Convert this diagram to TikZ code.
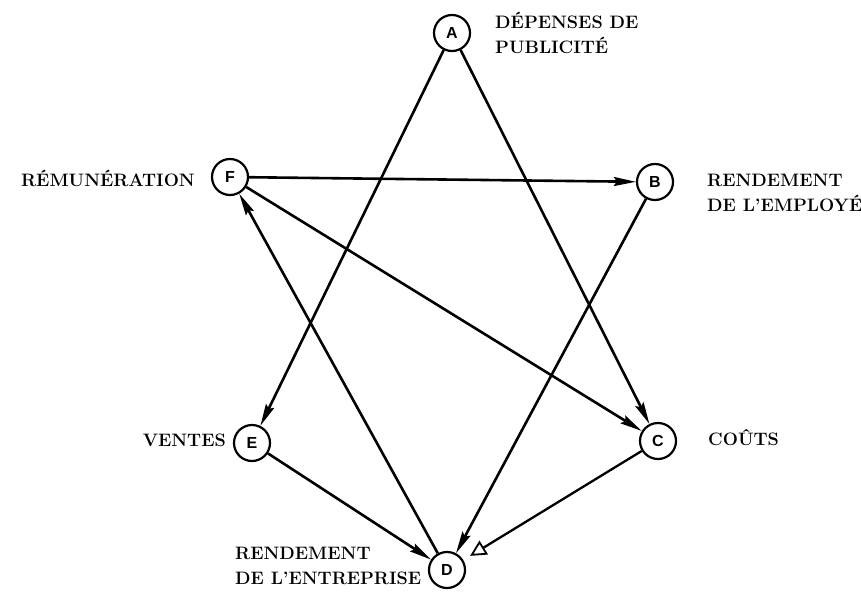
\documentclass[tikz,border=0pt]{standalone}
\usepackage{fontspec}
\newfontfamily\lettfont{Liberation Sans}
\usetikzlibrary{arrows.meta}
\begin{document}
\begin{tikzpicture}[x=1pt,y=-1pt,
  vnode/.style={circle,draw,line width=2.2pt,minimum size=36pt,inner sep=0pt,font=\lettfont\bfseries\fontsize{16}{16}\selectfont},
  lbl/.style={font=\bfseries\fontsize{18}{25}\selectfont,align=left,inner sep=0pt},
  edge/.style={line width=2.6pt,-{Stealth[length=22pt,width=9pt,inset=3pt]}},
  openedge/.style={line width=2.3pt,-{Triangle[open,length=16pt,width=16pt,line width=1.8pt]},shorten >=8pt}]
\useasboundingbox (0,0) rectangle (861,591);
\node[vnode] (A) at (452,33) {A};
\node[vnode] (B) at (655,182) {B};
\node[vnode] (C) at (658,441) {C};
\node[vnode] (D) at (447,570) {D};
\node[vnode] (E) at (252,443) {E};
\node[vnode] (F) at (230,177) {F};
\node[lbl,anchor=west] (la) at (495,33) {DÉPENSES DE\\PUBLICITÉ};
\node[lbl,anchor=east] (lf) at (195,178) {RÉMUNÉRATION};
\node[lbl,anchor=west] (lb) at (707,193) {RENDEMENT\\DE L'EMPLOYÉ};
\node[lbl,anchor=east] (le) at (226,440) {VENTES};
\node[lbl,anchor=west] (lc) at (708,438) {COÛTS};
\node[lbl,anchor=west] (ld) at (235,566) {RENDEMENT\\DE L'ENTREPRISE};
\draw[edge] (A) -- (E);
\draw[edge] (A) -- (C);
\draw[edge] (F) -- (B);
\draw[edge] (F) -- (C);
\draw[edge] (B) -- (D);
\draw[edge] (E) -- (D);
\draw[edge] (D) -- (F);
\draw[openedge] (C) -- (D);
\end{tikzpicture}
\end{document}
